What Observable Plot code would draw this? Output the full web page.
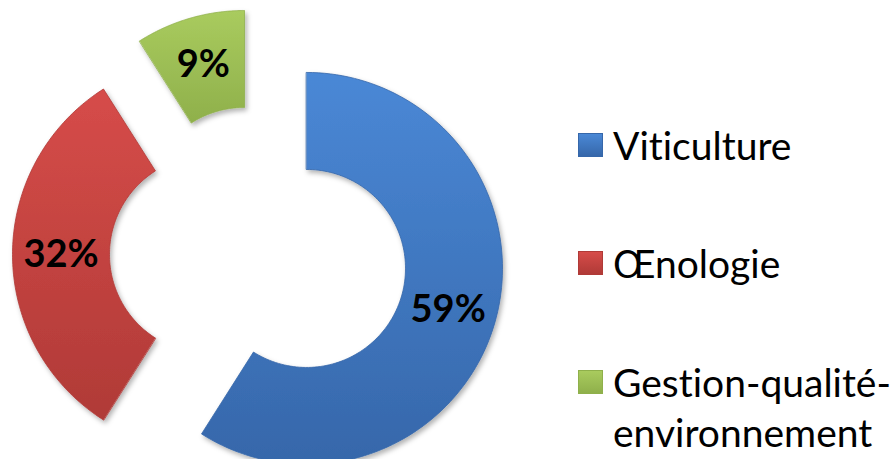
<!DOCTYPE html>
<html>
<head>
<meta charset="utf-8">
<script src="https://cdn.jsdelivr.net/npm/d3@7"></script>
<script src="https://cdn.jsdelivr.net/npm/@observablehq/plot@0.6"></script>
<style>
  html, body { margin: 0; padding: 0; background: #fff; }
  #wrap { position: relative; width: 893px; height: 459px; overflow: hidden; font-family: Lato, "Open Sans", sans-serif; font-variant-ligatures: none; }
  #chart { position: absolute; left: 0; top: 0; }
  #chart text { font-variant-ligatures: none; }
  .leg { position: absolute; left: 578px; line-height: 50px; font-size: 39px; color: #000; white-space: nowrap; }
  .leg .sw { position: absolute; left: 0; top: 13px; width: 25px; height: 24px; box-sizing: border-box; }
  .leg .tx { position: absolute; left: 35px; top: 0; }
</style>
</head>
<body>
<div id="wrap"><div id="chart"></div></div>
<script>
// ---- data ----
const categories = ["Viticulture", "Œnologie", "Gestion-qualité-environnement"];
const legendLines = [["Viticulture"], ["Œnologie"], ["Gestion-qualité-", "environnement"]];
const shares = [59, 32, 9];
const labels = ["59%", "32%", "9%"];
const colorsTop = ["#4a88d6", "#d64c49", "#a9cb5e"];
const colorsBottom = ["#3667aa", "#b03a37", "#8fb04b"];

// ---- geometry (in units of the outer radius) ----
const W = 893, H = 459;
const R = 196;            // pixels per unit
const cxPx = 258, cyPx = 254;
const inner = 99 / 196;
const explode = 50 / 196;

const pie = d3.pie().sort(null).value(d => d)(shares);
const polys = [];
const labelRows = [];
pie.forEach((p, i) => {
  const mid = (p.startAngle + p.endAngle) / 2;
  const ox = explode * Math.sin(mid), oy = explode * Math.cos(mid);
  const n = 120;
  const pts = [];
  for (let k = 0; k <= n; k++) {
    const a = p.startAngle + (p.endAngle - p.startAngle) * k / n;
    pts.push({x: ox + Math.sin(a), y: oy + Math.cos(a), cat: categories[i]});
  }
  for (let k = n; k >= 0; k--) {
    const a = p.startAngle + (p.endAngle - p.startAngle) * k / n;
    pts.push({x: ox + inner * Math.sin(a), y: oy + inner * Math.cos(a), cat: categories[i]});
  }
  polys.push(pts);
  const rm = (1 + inner) / 2;
  labelRows.push({x: ox + rm * Math.sin(mid), y: oy + rm * Math.cos(mid), label: labels[i]});
});

const defsMark = () => {
  const defs = d3.create("svg:defs");
  colorsTop.forEach((c, i) => {
    const g = defs.append("linearGradient").attr("id", "g" + i).attr("x1", 0).attr("y1", 0).attr("x2", 0).attr("y2", 1);
    g.append("stop").attr("offset", "0%").attr("stop-color", c);
    g.append("stop").attr("offset", "100%").attr("stop-color", colorsBottom[i]);
  });
  const f = defs.append("filter").attr("id", "shadow").attr("x", "-20%").attr("y", "-20%").attr("width", "140%").attr("height", "140%");
  f.append("feDropShadow").attr("dx", 2).attr("dy", 3).attr("stdDeviation", 2.5).attr("flood-color", "#000").attr("flood-opacity", 0.3);
  return defs.node();
};

const chart = Plot.plot({
  width: W,
  height: H,
  margin: 0,
  x: {domain: [-cxPx / R, (W - cxPx) / R], range: [0, W], axis: null},
  y: {domain: [-(H - cyPx) / R, cyPx / R], range: [H, 0], axis: null},
  marks: [
    defsMark,
    ...polys.map((pts, i) => Plot.line(pts, {
      x: "x", y: "y", curve: "linear-closed",
      fill: `url(#g${i})`, stroke: colorsBottom[i], strokeWidth: 0.8,
      className: "slice"
    })),
    Plot.text(labelRows, {
      x: "x", y: "y", text: "label",
      fontSize: 38, fontWeight: "bold", fill: "#000",
      fontFamily: "Lato, 'Open Sans', sans-serif"
    })
  ]
});
chart.querySelectorAll("g.slice").forEach(g => g.setAttribute("filter", "url(#shadow)"));
document.getElementById("chart").appendChild(chart);

// ---- legend ----
const legendTops = [120, 238, 357];
const wrap = document.getElementById("wrap");
legendLines.forEach((lines, i) => {
  const item = document.createElement("div");
  item.className = "leg";
  item.style.top = legendTops[i] + "px";
  const sw = document.createElement("div");
  sw.className = "sw";
  sw.style.background = `linear-gradient(${colorsTop[i]}, ${colorsBottom[i]})`;
  sw.style.border = `1px solid ${colorsBottom[i]}`;
  const tx = document.createElement("div");
  tx.className = "tx";
  tx.innerHTML = lines.join("<br>");
  item.appendChild(sw);
  item.appendChild(tx);
  wrap.appendChild(item);
});
</script>
</body>
</html>
